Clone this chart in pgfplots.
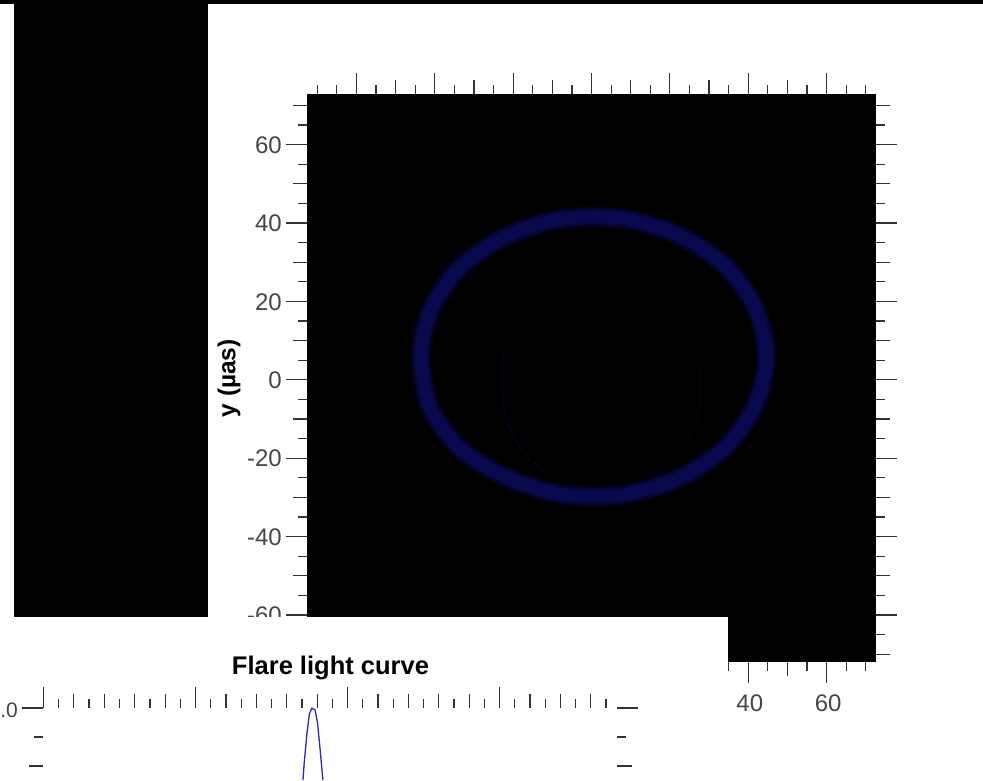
\documentclass[border=0pt]{standalone}
\usepackage{pgfplots}
\pgfplotsset{compat=1.18}
\usepackage{fontspec}
\setmainfont{Liberation Sans}
\usepackage{pgfplotstable}
\definecolor{ringa}{RGB}{3,3,32}
\definecolor{ringb}{RGB}{6,6,54}
\definecolor{ringc}{RGB}{9,9,78}
\definecolor{faint}{RGB}{3,3,22}
\definecolor{tickc}{RGB}{50,50,50}
\definecolor{lblc}{RGB}{70,70,70}
\definecolor{curve}{RGB}{40,40,190}
\pgfplotstableread{
x y
-43.6 5.9
-41.6 -6.3
-33.6 -17.5
-21.5 -25
-7.2 -29.3
8.2 -29.3
22.5 -25
34.3 -17.1
41.9 -6.3
44.6 5.9
41.9 18.1
34.3 28.9
22.5 36.8
8.2 41.1
-7.2 41.1
-21.5 36.8
-33.3 28.9
-40.9 18.1
-43.6 5.9
-41.6 -6.3
}\ringdata
\begin{document}
\begin{tikzpicture}[x=1pt,y=1pt]
\path[use as bounding box] (0,0) rectangle (983,780);
\begin{axis}[
  at={(307pt,118pt)},anchor=south west,
  scale only axis,width=569pt,height=567.5pt,
  xmin=-72.6,xmax=72.6,ymin=-72.0,ymax=72.8,
  axis background/.style={fill=black},
  axis line style={draw=none},
  clip=true,
  tick align=outside,
  xtick pos=both,ytick pos=both,
  xticklabel pos=lower,yticklabel pos=left,
  xtick={-60,-40,-20,0,20,40,60},
  ytick={-60,-40,-20,0,20,40,60},
  minor xtick={-70,-65,-55,-45,-35,-25,-15,-5,5,15,25,35,45,55,65,70},
  minor ytick={-65,-55,-45,-35,-25,-15,-5,5,15,25,35,45,55,65},
  extra x ticks={-50,-30,-10,10,30,50},
  extra y ticks={-70,-50,-30,-10,10,30,50,70},
  extra x tick labels={},extra y tick labels={},
  extra tick style={major tick length=14pt,tick style={color=tickc,line width=1.2pt}},
  major tick length=21pt,minor tick length=9pt,
  tick style={color=tickc,line width=1.2pt},
  minor tick style={color=tickc,line width=1.2pt},
  /pgf/number format/assume math mode=true,
  ticklabel style={font=\fontsize{24}{26}\selectfont,color=lblc},
  yticklabel style={inner sep=4pt,yshift=-0.5pt},
  xticklabel style={inner sep=0pt,yshift=-12pt,xshift=1.5pt},
  ylabel={y (\textmu as)},
  ylabel style={at={(axis description cs:-0.137,0.5)},anchor=center,font=\fontsize{24.5}{26}\selectfont\bfseries,color=black},
]
\addplot[ringa,line width=20pt,smooth,line cap=round] table {\ringdata};
\addplot[ringb,line width=16.5pt,smooth,line cap=round] table {\ringdata};
\addplot[ringc,line width=12pt,smooth,line cap=round] table {\ringdata};
\addplot[faint,line width=2pt,smooth] coordinates {(-22.6,7)(-22.8,2)(-22.6,-5)(-21,-12)(-17,-19)(-11,-24.5)};
\addplot[faint,line width=1.5pt,smooth] coordinates {(27.5,3.3)(27.6,-3)(26.5,-11)(22,-19)(15,-24)};
\end{axis}
% masks of the composite
\fill[black] (14,163) rectangle (208,780);
\fill[black] (0,776) rectangle (983,780);
\fill[white] (0,0) rectangle (728,163);
\begin{axis}[
  at={(43.5pt,0pt)},anchor=south west,
  scale only axis,width=573.5pt,height=72pt,
  xmin=0,xmax=37.73,ymin=0.876,ymax=1.0,
  axis line style={draw=none},
  clip=false,
  tick align=outside,
  xtick pos=upper,ytick pos=both,yticklabel pos=left,
  xtick={0,10,20,30},xticklabels={},
  ytick={1.0},yticklabels={.0},
  minor xtick={1,3,5,7,9,11,13,15,17,19,21,23,25,27,29,31,33,35,37},
  minor ytick={0.95},
  extra x ticks={2,4,6,8,12,14,16,18,22,24,26,28,32,34,36},
  extra y ticks={0.9},
  extra x tick labels={},extra y tick labels={},
  extra tick style={major tick length=14.5pt,tick style={color=tickc,line width=1.2pt}},
  major tick length=21pt,minor tick length=9pt,
  tick style={color=tickc,line width=1.2pt},
  minor tick style={color=tickc,line width=1.2pt},
  /pgf/number format/assume math mode=true,
  ticklabel style={font=\fontsize{21}{23}\selectfont,color=lblc},
  yticklabel style={inner sep=0pt,xshift=-4.5pt,yshift=-2pt},
  title={Flare light curve},
  title style={at={(axis description cs:0.5004,1)},anchor=base,yshift=28pt,font=\fontsize{25.5}{27}\selectfont\bfseries,color=black,inner sep=0pt},
]
\addplot[curve,line width=1.3pt] coordinates {
(17.07,0.876)(17.15,0.905)(17.33,0.956)(17.5,0.991)(17.66,0.9995)(17.87,0.9966)(18.03,0.974)(18.2,0.928)(18.38,0.876)};
\end{axis}
\end{tikzpicture}
\end{document}
